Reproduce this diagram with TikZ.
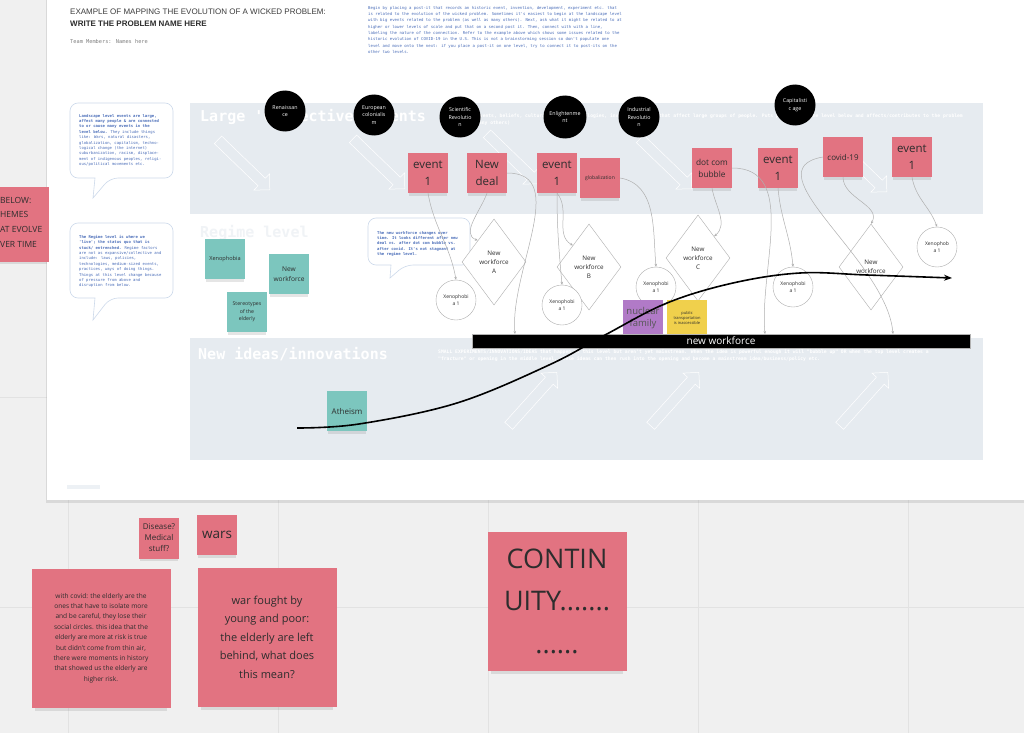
\documentclass[tikz,border=0pt]{standalone}
\usepackage{fontspec}
\setmainfont{Open Sans}
\newfontfamily\monof{DejaVu Sans Mono}
\newfontfamily\headf{Liberation Sans}
\usetikzlibrary{shapes.geometric,shapes.arrows,shadows,arrows.meta}
\definecolor{canvas}{RGB}{240,240,240}
\definecolor{gridl}{RGB}{226,226,226}
\definecolor{band}{RGB}{230,235,240}
\definecolor{pinkn}{RGB}{226,115,129}
\definecolor{tealn}{RGB}{124,198,190}
\definecolor{purpn}{RGB}{177,122,199}
\definecolor{yelln}{RGB}{240,208,76}
\definecolor{ink}{RGB}{45,45,45}
\definecolor{bluet}{RGB}{75,110,185}
\definecolor{bubl}{RGB}{205,218,235}
\definecolor{linec}{RGB}{175,175,175}
\definecolor{titlec}{RGB}{60,60,60}
\begin{document}
\begin{tikzpicture}[x=1pt,y=-1pt,
  f/.style 2 args={font=\fontsize{#1}{#2}\selectfont},
  sh/.style={drop shadow={shadow xshift=0pt,shadow yshift=-4pt,shadow scale=.95,opacity=.2}},
  note/.style={sh,inner sep=1pt,align=center,text=ink,minimum size=40pt},
  pk/.style={note,fill=pinkn},
  tl/.style={note,fill=tealn},
  big/.style={pk,minimum size=139pt,drop shadow={shadow xshift=0pt,shadow yshift=-7pt,shadow scale=.95,opacity=.2}},
  ev/.style={circle,fill=black,text=white,minimum size=41pt,inner sep=0,align=center,f={5.3}{7.3}},
  dm/.style={diamond,draw=linec,fill=white,minimum width=64pt,minimum height=86pt,inner sep=0,align=center,text=ink,f={6.3}{9}},
  xc/.style={circle,draw=linec,fill=white,minimum size=40pt,inner sep=0,align=center,text=ink,f={5}{7}},
  cn/.style={draw=linec,line width=.5pt,-{Stealth[length=3pt,width=2.5pt]}},
  bub/.style={draw=bubl,fill=white,line width=.6pt},
  btx/.style={anchor=north west,inner sep=0,align=left,text=bluet,font=\monof\fontsize{3.9}{5.4}\selectfont},
  hd/.style={anchor=west,inner sep=0,font=\monof\bfseries\fontsize{15}{18}\selectfont},
  sub/.style={anchor=west,inner sep=0,align=left,text=white,font=\monof\bfseries\fontsize{4.7}{7}\selectfont},
  larr/.style={single arrow,draw=white,line width=.5pt,minimum height=72pt,inner sep=5pt,single arrow head extend=6pt}]
\useasboundingbox (0,0) rectangle (1024,733);
\fill[canvas] (0,0) rectangle (1024,733);
\foreach \x in {68,278,488,698,908} \draw[gridl,line width=.8pt] (\x,0) -- (\x,733);
\foreach \y in {397,607} \draw[gridl,line width=.8pt] (0,\y) -- (1024,\y);
\fill[white,drop shadow={shadow xshift=-1pt,shadow yshift=-3pt,opacity=.2}] (47,-10) rectangle (1040,500);
\fill[band!70] (67,485) rectangle (100,489);

\node[anchor=west,inner sep=0,text=titlec,font=\headf\fontsize{8}{9}\selectfont] (h1) at (70,12) {EXAMPLE OF MAPPING THE EVOLUTION OF A WICKED PROBLEM:};
\node[anchor=west,inner sep=0,text=ink,font=\headf\bfseries\fontsize{8}{9}\selectfont] (h2) at (70,24) {WRITE THE PROBLEM NAME HERE};
\node[anchor=west,inner sep=0,text=gray,font=\monof\fontsize{5.3}{6}\selectfont] (h3) at (70,42) {Team Members: Names here};
\node[anchor=north west,inner sep=0,align=left,text=bluet,font=\monof\fontsize{4}{6.3}\selectfont] (ins) at (368,6) {Begin by placing a post-it that records an historic event, invention, development, experiment etc. that\\
is related to the evolution of the wicked problem. Sometimes it's easiest to begin at the landscape level\\
with big events related to the problem (as well as many others). Next, ask what it might be related to at\\
higher or lower levels of scale and put that on a second post it. Then, connect with with a line,\\
labeling the nature of the connection. Refer to the example above which shows some issues related to the\\
historic evolution of COVID-19 in the U.S. This is not a brainstorming session so don't populate one\\
level and move onto the next: if you place a post-it on one level, try to connect it to post-its on the\\
other two levels.};

\fill[band] (190,103) rectangle (983,214);
\fill[band] (190,338) rectangle (983,460);
\foreach \x/\y [count=\i] in {242/163,377/162,511/157,664/162,859/165} \node[larr,rotate=-44] (la\i) at (\x,\y) {};
\foreach \x [count=\i] in {531,673,862} \node[larr,rotate=48] (na\i) at (\x,401) {};
\node[hd,text=white] (lh) at (200,117) {Large 'Collective' events};
\node[sub] (ls) at (442,120) {Big shifts: Events, beliefs, cultural ideas, technologies, inventions, etc. that affect large groups of people. Puts pressure on the level below and affects/contributes to the problem\\(as well as many others)};
\node[hd,text=band!60] (rh) at (200,233) {Regime level};
\node[hd,text=white] (nh) at (198,354) {New ideas/innovations};
\node[sub] (ns) at (438,356) {SMALL EXPERIMENTS/INNOVATIONS/IDEAS that happen at this level but aren't yet mainstream. When the idea is powerful enough it will "bubble up" OR when the top level creates a\\"fracture" or opening in the middle level, these ideas can then rush into the opening and become a mainstream idea/business/policy etc.};

\draw[bub,rounded corners=8pt] (70,140) -- (70,103) -- (173,103) -- (173,178) -- (110,178) [sharp corners] -- (93,198) -- (95,178) [rounded corners=8pt] -- (70,178) -- cycle;
\draw[bub,rounded corners=8pt] (70,260) -- (70,223) -- (173,223) -- (173,298) -- (110,298) [sharp corners] -- (93,320) -- (95,298) [rounded corners=8pt] -- (70,298) -- cycle;
\draw[bub,rounded corners=8pt] (368,240) -- (368,218) -- (470,218) -- (470,265) -- (405,265) [sharp corners] -- (390,278) -- (391,265) [rounded corners=8pt] -- (368,265) -- cycle;
\node[btx] (t1) at (79,114) {\textbf{Landscape level events are large,}\\
\textbf{affect many people \& are connected}\\
\textbf{to or cause many events in the}\\
\textbf{level below.} They include things\\
like: Wars, natural disasters,\\
globalization, capitalism, techno-\\
logical change (the internet)\\
suburbanization, racism, displace-\\
ment of indigenous peoples, religi-\\
ous/political movements etc.};
\node[btx] (t2) at (79,235) {\textbf{The Regime level is where we}\\
\textbf{'live'; the status quo that is}\\
\textbf{stuck/ entrenched.} Regime factors\\
are not as expansive/collective and\\
include: laws, policies,\\
technologies, medium-sized events,\\
practices, ways of doing things.\\
Things at this level change because\\
of pressure from above and\\
disruption from below.};
\node[btx] (t3) at (377,231) {\textbf{The new workforce changes over}\\
\textbf{time. It looks different after new}\\
\textbf{deal vs. after dot com bubble vs.}\\
\textbf{after covid. It's not stagnant at}\\
\textbf{the regime level.}};

\node[pk,minimum width=79pt,minimum height=75pt] (sb) at (9.5,224.5) {};
\node[anchor=west,inner sep=0,align=left,text=ink,f={8.5}{14.7}] (sbt) at (0,222) {BELOW:\\HEMES\\AT EVOLVE\\VER TIME};

\node[ev] (rn) at (285,111) {Renaissan\\ce};
\node[ev] (ec) at (374,115) {European\\colonialis\\m};
\node[ev] (sr) at (460,117) {Scientific\\Revolutio\\n};
\node[ev,minimum size=43pt] (en) at (565,117) {Enlightenme\\nt};
\node[ev] (ir) at (639,117) {Industrial\\Revolutio\\n};
\node[ev] (cc) at (795,105) {Capitalisti\\c age};

\node[pk,f={11.5}{16.5}] (e1) at (428,173) {event\\1};
\node[pk,f={11.5}{16.5}] (nd) at (487,173) {New\\deal};
\node[pk,f={11.5}{16.5}] (e2) at (557,173) {event\\1};
\node[pk,f={5}{6}] (gl) at (600,178) {globalization};
\node[pk,f={8.3}{12}] (dc) at (712,168) {dot com\\bubble};
\node[pk,f={11.5}{16.5}] (e3) at (778,168) {event\\1};
\node[pk,f={8}{10}] (cv) at (843,157) {covid-19};
\node[pk,f={11.5}{16.5}] (e4) at (912,157) {event\\1};

\node[tl,f={5.6}{7}] (xe) at (225,259) {Xenophobia};
\node[tl,f={6.6}{10}] (nw) at (289,274) {New\\workforce};
\node[tl,f={5.2}{7.5}] (st) at (247,312) {Stereotypes\\of the\\elderly};
\node[tl,f={8}{10}] (at) at (347,411) {Atheism};

\node[dm] (da) at (494,262) {New\\workforce\\A};
\node[dm] (db) at (589,267) {New\\workforce\\B};
\node[dm] (dc2) at (698,258) {New\\workforce\\C};
\node[dm] (dd) at (871,267) {New\\workforce};

\node[xc] (x1) at (456,300) {Xenophobi\\a 1};
\node[xc] (x2) at (562,305) {Xenophobi\\a 1};
\node[xc] (x3) at (656,287) {Xenophobi\\a 1};
\node[xc] (x4) at (793,287) {Xenophobi\\a 1};
\node[xc] (x5) at (937,247) {Xenophob\\a 1};

\coordinate (b1) at (515,334);
\coordinate (b2) at (765,334);
\coordinate (b3) at (893,334);
\draw[cn] (e1.south) to[out=-80,in=100] (x1.north);
\draw[cn] (nd.south) to[out=-110,in=160] (da.north west);
\draw[cn] (nd.east) to[out=0,in=95] (b1);
\draw[cn] (e2.south) to[out=-90,in=95] (x2.north);
\draw[cn] (e2.south) to[out=-50,in=150] (db.north west);
\draw[cn] (gl.east) to[out=-10,in=95] (x3.north);
\draw[cn] (dc.south) to[out=-80,in=40] (dc2.north east);
\draw[cn] (dc.east) to[out=0,in=95] (b2);
\draw[cn] (e3.south) to[out=-85,in=95] (x4.north);
\draw[cn] (cv.south) to[out=-90,in=60] (dd.north);
\draw[cn] (cv.west) to[out=190,in=95] (b3);
\draw[cn] (e4.south) to[out=-80,in=110] (x5.north);

\node[note,fill=purpn,minimum width=40pt,minimum height=36pt,text=ink!80,f={9.5}{12.5}] (nf) at (643,318) {nuclear\\family};
\node[note,fill=yelln,minimum width=40pt,minimum height=36pt,f={4}{5}] (pt) at (687,318) {public\\transportation\\is inaccessible};
\node[fill=black,draw=gray!60,line width=.4pt,minimum width=498pt,minimum height=14pt,inner sep=0,text=white,f={10}{12}] (nwb) at (721,341) {new workforce};

\draw[line width=1.6pt,-{Stealth[length=8pt,width=6pt]}] plot[smooth,tension=.6] coordinates {(297,428) (359,424) (457,403) (549,365) (605,335) (667,303) (733,283) (800,273) (867,275) (952,278)};

\node[pk,minimum height=41pt,f={8}{11}] (ds) at (159,538) {Disease?\\Medical\\stuff?};
\node[pk,f={13.5}{16}] (wr) at (217,535) {wars};
\node[big,f={6.6}{10.4}] (wc) at (101,638) {with covid: the elderly are the\\ones that have to isolate more\\and be careful, they lose their\\social circles. this idea that the\\elderly are more at risk is true\\but didn't come from thin air,\\there were moments in history\\that showed us the elderly are\\higher risk.};
\node[big,f={11}{18.5}] (wf) at (267,637) {war fought by\\young and poor:\\the elderly are left\\behind, what does\\this mean?};
\node[big,f={27}{42.5}] (ct) at (557,601) {CONTIN\\UITY.......\\......};
\end{tikzpicture}
\end{document}
